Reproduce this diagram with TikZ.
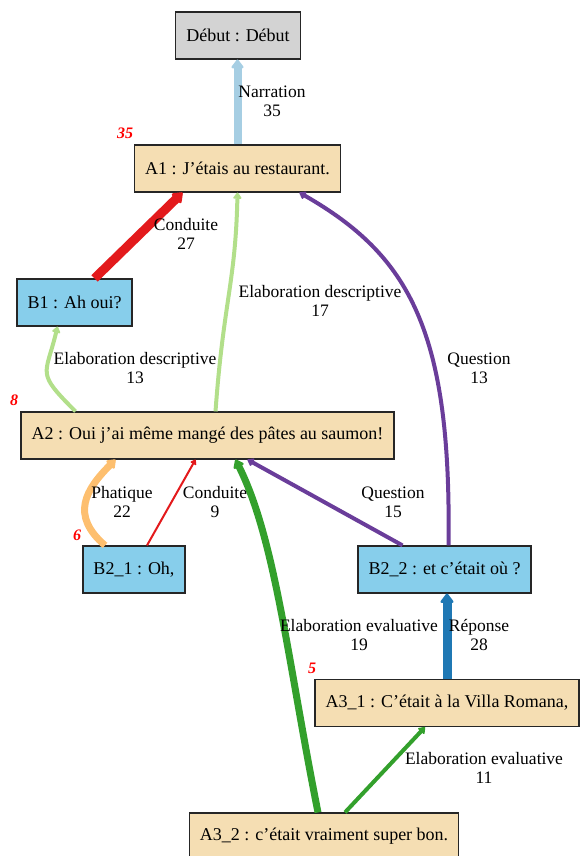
\documentclass[tikz,border=0pt]{standalone}
\usepackage{fontspec}
\setmainfont{Liberation Serif}
\usepackage{tikz}
\usetikzlibrary{arrows.meta}

\definecolor{debutgray}{HTML}{D3D3D3}
\definecolor{wheat}{HTML}{F5DEB3}
\definecolor{skyblue}{HTML}{87CEEB}
\definecolor{narrblue}{HTML}{A6CEE3}
\definecolor{repblue}{HTML}{1F78B4}
\definecolor{lightgreen}{HTML}{B2DF8A}
\definecolor{darkgreen}{HTML}{33A02C}
\definecolor{phatorange}{HTML}{FDBF6F}
\definecolor{condred}{HTML}{E31A1C}
\definecolor{questpurple}{HTML}{6A3D9A}

\tikzset{
  box/.style={draw=black!85, line width=1.2pt, inner xsep=10.5pt, minimum height=47pt,
    font=\fontsize{18}{19}\selectfont},
  abox/.style={box, fill=wheat},
  bbox/.style={box, fill=skyblue},
  lbl/.style={align=center, inner sep=0pt, font=\fontsize{17.5}{19}\selectfont},
  cnt/.style={text=red, inner sep=0pt, font=\fontsize{16}{16}\selectfont\bfseries\itshape},
  rel/.style 2 args={draw=#1, line width=#2,
    -{Triangle[round, length=4pt 0.7, width=5pt 1.1]}}
}

\begin{document}
\begin{tikzpicture}[x=1pt,y=-1pt]
	\useasboundingbox (0,0) rectangle (579,856);
	
	% turns
	\node[box, fill=debutgray] (Debut) at (238,35.5) {Début : Début};
	\node[abox] (A1) at (237.5,168.5) {A1 : J’étais au restaurant.};
	\node[bbox] (B1) at (74.5,302.5) {B1 : Ah oui?};
	\node[abox] (A2) at (207.5,435.5) {A2 : Oui j’ai même mangé des pâtes au saumon!};
	\node[bbox] (B21) at (134,569.5) {B2\_1 : Oh,};
	\node[bbox] (B22) at (444.5,569.5) {B2\_2 : et c’était où ?};
	\node[abox] (A31) at (447,703) {A3\_1 : C’était à la Villa Romana,};
	\node[abox] (A32) at (324,836.5) {A3\_2 : c’était vraiment super bon.};
	
	% red counts
	\foreach \x/\y/\v in
	{125/133/35, 14/400/8, 77/535/6, 312/668/5}{
		\node[cnt] (cnt\v) at (\x,\y) {\v};
	}
	
	% relations
	\draw[rel={narrblue}{8pt}] (A1.north) -- (A1.north |- Debut.south);
	\draw[rel={condred}{9pt}] ([xshift=20pt]B1.north) -- ([xshift=-55pt]A1.south);
	\draw[rel={lightgreen}{4pt}] ([xshift=8pt]A2.north)
		.. controls +(8,-110) and +(-2,90) .. (A1.south);
	\draw[rel={questpurple}{4pt}] ([xshift=4pt]B22.north)
		.. controls +(3,-215) and +(110,63) .. ([xshift=62pt]A1.south);
	\draw[rel={lightgreen}{4pt}] ([xshift=-132pt]A2.north)
		.. controls +(-40,-40) and +(-12,50) .. ([xshift=-17pt]B1.south);
	\draw[rel={phatorange}{7pt}] ([xshift=-29pt]B21.north)
		.. controls +(-35,-30) and +(-30,30) .. ([xshift=-92pt]A2.south);
	\draw[rel={condred}{2pt}] ([xshift=13pt]B21.north) -- ([xshift=-12pt]A2.south);
	\draw[rel={questpurple}{4pt}] ([xshift=-42pt]B22.north) -- ([xshift=40pt]A2.south);
	\draw[rel={darkgreen}{7pt}] ([xshift=-6pt]A32.north)
		.. controls +(-30,-150) and +(40,80) .. ([xshift=28pt]A2.south);
	\draw[rel={repblue}{9pt}] (A31.north) -- (A31.north |- B22.south);
	\draw[rel={darkgreen}{4pt}] ([xshift=21pt]A32.north) -- ([xshift=-22pt]A31.south);
	
	% relation labels
	\node[lbl] (lNarr) at (272,101) {Narration\\35};
	\node[lbl] (lCond27) at (186,234) {Conduite\\27};
	\node[lbl] (lElab17) at (320,301) {Elaboration descriptive\\17};
	\node[lbl] (lQuest13) at (479,368) {Question\\13};
	\node[lbl] (lElab13) at (135,368) {Elaboration descriptive\\13};
	\node[lbl] (lPhat) at (122,502) {Phatique\\22};
	\node[lbl] (lCond9) at (215,502) {Conduite\\9};
	\node[lbl] (lQuest15) at (393,502) {Question\\15};
	\node[lbl] (lElab19) at (359,635) {Elaboration evaluative\\19};
	\node[lbl] (lRep) at (479,635) {Réponse\\28};
	\node[lbl] (lElab11) at (484,768) {Elaboration evaluative\\11};
\end{tikzpicture}
\end{document}
